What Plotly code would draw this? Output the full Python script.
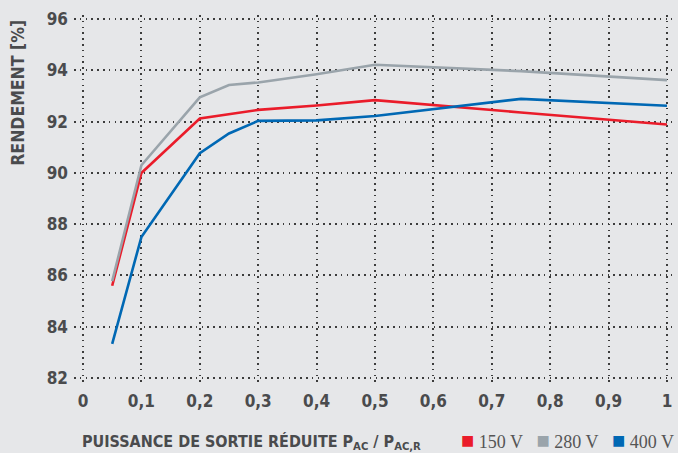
import plotly.graph_objects as go

x_vals = [0.05, 0.1, 0.2, 0.25, 0.3, 0.4, 0.5, 0.75, 1.0]
eff_150 = [85.6, 90.0, 92.12, 92.3, 92.46, 92.63, 92.84, 92.36, 91.89]
eff_280 = [85.78, 90.3, 92.95, 93.43, 93.53, 93.85, 94.22, 93.97, 93.62]
eff_400 = [83.33, 87.5, 90.77, 91.54, 92.03, 92.05, 92.22, 92.89, 92.62]

series_names = ["150 V", "280 V", "400 V"]
series_colors = ["#ea1c2a", "#9aa4ab", "#0068b4"]
series_data = [eff_150, eff_280, eff_400]

x_ticks = [0, 0.1, 0.2, 0.3, 0.4, 0.5, 0.6, 0.7, 0.8, 0.9, 1]
x_ticklabels = ["0", "0,1", "0,2", "0,3", "0,4", "0,5", "0,6", "0,7", "0,8", "0,9", "1"]
y_ticks = [82, 84, 86, 88, 90, 92, 94, 96]

BOLD = "DejaVu Sans Condensed, Roboto, sans-serif"
SERIF = "Liberation Serif, DejaVu Serif, serif"
TXT = "#4a4b4d"
BG = "#e6e7e9"
GRID = "#3c3c3c"

fig = go.Figure()
for name, color, ys in zip(series_names, series_colors, series_data):
    fig.add_trace(go.Scatter(x=x_vals, y=ys, mode="lines", name=name,
                             line=dict(color=color, width=2.6), showlegend=False))

fig.update_layout(
    width=678, height=453,
    paper_bgcolor=BG, plot_bgcolor=BG,
    margin=dict(l=74, r=6, t=15, b=67),
    xaxis=dict(range=[-0.0154, 1.0086], tickvals=x_ticks, ticktext=x_ticklabels,
               showgrid=True, gridcolor=GRID, griddash="1.6px,4.2px", gridwidth=1.6,
               zeroline=False, showline=False, ticks="", automargin=False,
               tickfont=dict(family=BOLD, size=17, color=TXT, weight="bold"),
               ticklabelstandoff=3),
    yaxis=dict(range=[81.69, 96.16], tickvals=y_ticks,
               showgrid=True, gridcolor=GRID, griddash="1.6px,4.2px", gridwidth=1.6,
               zeroline=False, showline=False, ticks="", automargin=False,
               tickfont=dict(family=BOLD, size=17, color=TXT, weight="bold"),
               ticklabelstandoff=5),
    showlegend=False,
)

fig.add_annotation(
    text="PUISSANCE DE SORTIE RÉDUITE P<sub>AC</sub> / P<sub>AC,R</sub>",
    xref="paper", yref="paper", x=0.01, y=-0.152, xanchor="left", yanchor="middle",
    showarrow=False, font=dict(family=BOLD, size=16, color=TXT, weight="bold"))

legend_parts = []
for name, color in zip(series_names, series_colors):
    legend_parts.append(
        f'<span style="color:{color};font-size:22px">■</span>&nbsp;{name}')
fig.add_annotation(
    text="&nbsp;&nbsp;&nbsp;".join(legend_parts),
    xref="paper", yref="paper", x=1.0067, y=-0.148, xanchor="right", yanchor="middle",
    showarrow=False, font=dict(family=SERIF, size=18, color="#555555"))

fig.add_annotation(
    text="RENDEMENT [%]", textangle=-90,
    xref="paper", yref="paper", x=-0.094, y=0.992, xanchor="center", yanchor="top",
    showarrow=False, font=dict(family=BOLD, size=17.5, color=TXT, weight="bold"))

fig.write_html("out.html", config={"displayModeBar": False})
with open("out.html", encoding="utf-8") as f:
    html = f.read()
html = html.replace("<head>", "<head><style>html,body{margin:0;padding:0;overflow:hidden}</style>", 1)
with open("out.html", "w", encoding="utf-8") as f:
    f.write(html)
